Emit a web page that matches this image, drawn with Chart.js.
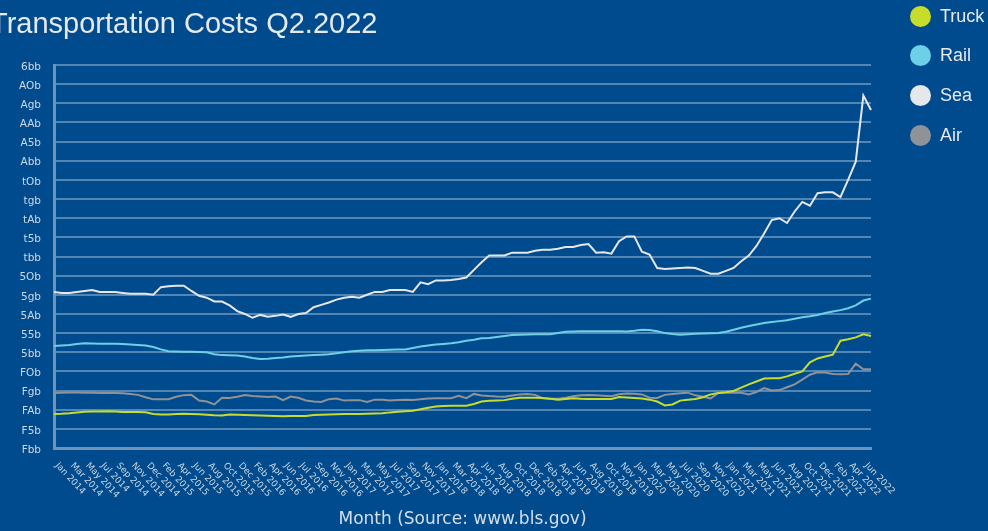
<!DOCTYPE html>
<html><head><meta charset="utf-8">
<script src="https://cdn.jsdelivr.net/npm/chart.js@4.4.0/dist/chart.umd.min.js"></script>
<style>
html,body{margin:0;padding:0;background:#004b8d;overflow:hidden;}
#wrap{position:relative;width:988px;height:531px;background:#004b8d;}
#c{position:absolute;left:0;top:0;}
#title{position:absolute;left:-10px;top:8.5px;font-family:'Liberation Sans',Arial,sans-serif;font-size:29px;line-height:29px;color:#e6e9ee;white-space:nowrap;}
.lg{position:absolute;left:910px;height:22px;}
.lg .dot{position:absolute;left:0;top:0;width:21px;height:21px;border-radius:50%;}
.lg .txt{position:absolute;left:30px;top:-2px;font-family:'Liberation Sans',Arial,sans-serif;font-size:18px;line-height:24px;color:#e6e9ee;white-space:nowrap;}
</style></head>
<body>
<div id="wrap">
<canvas id="c" width="988" height="531"></canvas>
<div id="title">Transportation Costs Q2.2022</div>
<div id="legend"></div>
</div>
<script>
const months = ['Jan 2014','Feb 2014','Mar 2014','Apr 2014','May 2014','Jun 2014','Jul 2014','Aug 2014','Sep 2014','Oct 2014',
'Nov 2014','Nov 2014','Dec 2014','Jan 2015','Feb 2015','Mar 2015','Apr 2015','May 2015','Jun 2015','Jul 2015',
'Aug 2015','Sep 2015','Oct 2015','Nov 2015','Dec 2015','Jan 2016','Feb 2016','Mar 2016','Apr 2016','May 2016',
'Jun 2016','Jun 2016','Jul 2016','Aug 2016','Sep 2016','Oct 2016','Nov 2016','Dec 2016','Jan 2017','Feb 2017',
'Mar 2017','Apr 2017','May 2017','Jun 2017','Jul 2017','Aug 2017','Sep 2017','Oct 2017','Nov 2017','Dec 2017',
'Jan 2018','Feb 2018','Mar 2018','Mar 2018','Apr 2018','May 2018','Jun 2018','Jul 2018','Aug 2018','Sep 2018',
'Oct 2018','Nov 2018','Dec 2018','Jan 2019','Feb 2019','Mar 2019','Apr 2019','May 2019','Jun 2019','Jul 2019',
'Aug 2019','Sep 2019','Oct 2019','Oct 2019','Nov 2019','Dec 2019','Jan 2020','Feb 2020','Mar 2020','Apr 2020',
'May 2020','Jun 2020','Jul 2020','Aug 2020','Sep 2020','Oct 2020','Nov 2020','Dec 2020','Jan 2021','Feb 2021',
'Mar 2021','Apr 2021','May 2021','May 2021','Jun 2021','Jul 2021','Aug 2021','Sep 2021','Oct 2021','Nov 2021',
'Dec 2021','Jan 2022','Feb 2022','Mar 2022','Apr 2022','May 2022','Jun 2022','Jun 2022'];

const truck = [135.5,135.8,136.3,137,137.8,138,138.2,138.3,138.2,137.6,
137.5,137.5,137.3,135.5,134.9,135,135.4,135.8,135.6,135.3,
134.8,134.3,134,135,134.8,134.5,134.3,134,133.7,133.4,
133.1,133.3,133.4,133.4,134.5,134.8,135,135.2,135.4,135.5,
135.6,135.8,136,136.2,137.2,137.8,138.5,139,140.5,142,
143.3,143.9,144,144,144.2,146,148.5,149.3,149.7,150,
151.5,152.5,152.5,152.5,152.2,151.5,150.5,151.2,152,151.5,
151.2,151.2,151.2,151.2,153.2,152.8,152.3,151.8,150.5,148.5,
144.5,145.5,149.5,150.5,151.2,153,156,157.4,158.3,159.5,
163,166.5,169.5,172.5,172.8,172.8,174.8,177.5,180,189.5,
193.5,195.5,197.5,212,213.5,215.5,218.7,217];

const rail = [206.5,207,207.5,208.5,209.3,209.2,209,209,208.8,208.5,
208,207.5,207,205.5,203,201,200.8,200.6,200.5,200.2,
200,198,197,196.8,196.5,195.5,194,193,193.3,194,
194.5,195.5,196,196.5,197,197.5,198,199,200,201,
201.5,202,202.2,202.4,202.6,202.8,203,204.5,206,207,
208,208.7,209.5,210.5,212,213,214.5,215,216,217,
218,218.3,218.6,218.7,218.7,218.7,220,221.5,221.7,222,
222,222,222,222,222,221.8,222.5,223.5,223.3,222,
220,219,218.4,218.8,219.3,219.6,219.9,220.2,221.5,223.5,
225.5,227.5,229,230.5,231.5,232.5,233.5,235,236.5,237.5,
239,241,242.5,244,246,249,254,256];

const sea = [263,262,262,263,264,265,263,263,263,262,
261,261,261,260,268,269,269.5,269.5,264,259,
257,253,253,249,243,240,236,239,237,238,
239.5,237,240,241,247,249.5,252,255,257,258,
257,260,263,263,265,265,265,263,273,271,
275,275,275.5,276.5,278,286,294,301,301,301,
304,304,304,306,307,307,308,310,310,312,
313,304,304.5,303,316,321,321,305,302,288,
287,287.5,288,288.5,288,285,282,282,285,288,
295,301,311,324,338,340,335,347,357,353,
366,367,367,362,380,399,468,453];

const air = [157.4,157.6,158,157.9,157.7,157.6,157.5,157.5,157.4,157.2,
156.5,155.5,153,150.8,150.9,151,153.5,155.2,155.5,149.5,
148.6,145.5,152.5,152.2,153.5,155.3,154.3,153.8,153.2,153.8,
150,153.8,152.5,149.6,148.5,148,151,151.7,149.5,150,
150,148,150.5,150.5,149.5,150.2,150.4,150.1,150.8,151.6,
151.9,151.9,151.9,154.5,152,156.5,154.8,154.2,153.8,153.6,
154.8,156,156.3,155.5,152,151.5,151.5,152.5,154,155.2,
155.3,155,154.6,154.1,156.2,157,156.6,156,152.5,152.2,
155.5,156.5,157.2,157.8,155,153.5,151.8,157.5,157.7,157.8,
157.8,156,158.5,162.5,160,160.5,163.5,166.5,171.5,176.5,
179,178.8,177.3,177,177.3,188,182.3,182.2];

const yTickValues = [100,120,140,160,180,200,220,240,260,280,300,320,340,360,380,400,420,440,460,480,500];
const yTickLabels = ['Fbb','F5b','FAb','Fgb','FOb','5bb','55b','5Ab','5gb','5Ob','tbb','t5b','tAb','tgb','tOb','Abb','A5b','AAb','Agb','AOb','6bb'];

const seriesNames = ['Truck','Rail','Sea','Air'];
const seriesColors = ['#c8dc2c','#6dcfe8','#e6e7eb','#8f9297'];

// legend
const lg = document.getElementById('legend');
seriesNames.forEach((n,i)=>{
  const d = document.createElement('div');
  d.className='lg';
  d.style.top = (5.5 + i*39.7)+'px';
  d.innerHTML = '<span class="dot" style="background:'+seriesColors[i]+'"></span><span class="txt">'+n+'</span>';
  lg.appendChild(d);
});

const xLabelPlugin = {
  id:'xlabels',
  afterDraw(chart){
    const {ctx} = chart; const xs = chart.scales.x;
    ctx.save();
    ctx.font = '9px "DejaVu Sans"';
    ctx.fillStyle = '#cdd8e4';
    ctx.textAlign = 'left';
    ctx.textBaseline = 'top';
    months.forEach((lab,i)=>{
      if (i % 2) return;
      const px = xs.getPixelForValue(i);
      ctx.save();
      ctx.translate(px + 6, 461);
      ctx.rotate(47*Math.PI/180);
      ctx.fillText(lab, 0, 0);
      ctx.restore();
    });
    ctx.restore();
  }
};

const data = [truck, rail, sea, air];
new Chart(document.getElementById('c'), {
  type:'line',
  data:{
    labels: months,
    datasets: seriesNames.map((n,i)=>({
      label:n, data:data[i], borderColor:seriesColors[i], backgroundColor:seriesColors[i],
      borderWidth:2, pointRadius:0, tension:0, fill:false
    }))
  },
  options:{
    responsive:false, animation:false,
    layout:{padding:{top:65,right:117,left:0,bottom:0}},
    plugins:{legend:{display:false}, tooltip:{enabled:false}},
    scales:{
      x:{
        grid:{display:false},
        border:{display:true,color:'#6f94ba',width:3},
        ticks:{display:false},
        title:{display:true,text:'Month (Source: www.bls.gov)',color:'#d5dfea',font:{family:'DejaVu Sans',size:17},padding:{top:0,bottom:1}},
        afterFit(s){ s.height = 83; }
      },
      y:{
        min:100,max:500,
        ticks:{stepSize:20,color:'#cdd8e4',font:{family:'DejaVu Sans',size:10.5},padding:13,labelOffset:2,
          callback:(v)=>{ const k = yTickValues.indexOf(v); return k<0?'':yTickLabels[k]; }},
        grid:{color:'#5486b3',lineWidth:2,drawTicks:false},
        border:{display:true,color:'#6f94ba',width:3},
        afterFit(s){ s.width = 54; }
      }
    }
  },
  plugins:[xLabelPlugin]
});
</script>
</body></html>
